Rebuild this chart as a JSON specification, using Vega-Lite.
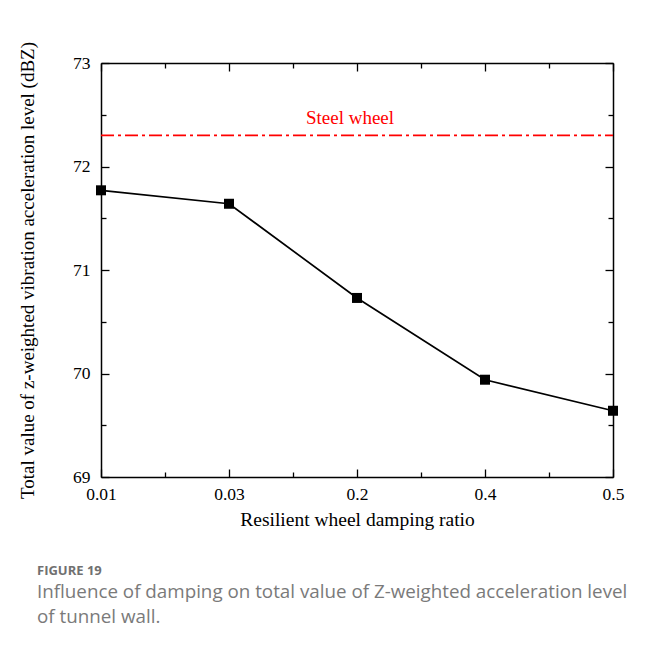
{
  "$schema": "https://vega.github.io/schema/vega-lite/v6.json",
  "width": 512,
  "height": 414,
  "autosize": {"type": "none"},
  "padding": {"left": 101, "top": 63, "right": 43, "bottom": 169},
  "background": "white",
  "datasets": {
    "levels": [
      {"ratio": "0.01", "level": 71.77},
      {"ratio": "0.03", "level": 71.64},
      {"ratio": "0.2", "level": 70.73},
      {"ratio": "0.4", "level": 69.94},
      {"ratio": "0.5", "level": 69.64}
    ],
    "steel": [
      {"label": "Steel wheel", "level": 72.3, "from": "0.01", "to": "0.5", "at": "0.2"}
    ]
  },
  "title": {
    "text": "FIGURE 19",
    "subtitle": ["Influence of damping on total value of Z-weighted acceleration level", "of tunnel wall."],
    "orient": "bottom",
    "anchor": "start",
    "frame": "group",
    "dx": -64,
    "offset": 36,
    "font": "Open Sans",
    "fontSize": 13,
    "fontWeight": "bold",
    "color": "#707070",
    "subtitleFont": "Open Sans",
    "subtitleFontSize": 18.8,
    "subtitleColor": "#7a7a7a",
    "subtitleLineHeight": 25,
    "subtitlePadding": 5
  },
  "layer": [
    {
      "data": {"name": "levels"},
      "mark": {"type": "line", "color": "black", "strokeWidth": 1.7},
      "encoding": {
        "x": {
          "field": "ratio", "type": "ordinal",
          "scale": {"type": "point", "padding": 0, "domain": ["0.01", "m1", "0.03", "m2", "0.2", "m3", "0.4", "m4", "0.5"]},
          "axis": {
            "orient": "bottom", "values": ["0.01", "0.03", "0.2", "0.4", "0.5"],
            "tickSize": -8, "labelPadding": 16, "labelAngle": 0,
            "title": "Resilient wheel damping ratio", "titlePadding": 8, "titleFontSize": 19.5
          }
        },
        "y": {
          "field": "level", "type": "quantitative",
          "scale": {"domain": [69, 73], "zero": false, "nice": false},
          "axis": {
            "orient": "left", "values": [69, 70, 71, 72, 73],
            "tickSize": -8, "labelPadding": 19,
            "title": "Total value of z-weighted vibration acceleration level (dBZ)", "titlePadding": 35, "titleFontSize": 19
          }
        }
      }
    },
    {
      "data": {"name": "levels"},
      "mark": {"type": "square", "color": "black", "opacity": 1, "size": 100},
      "encoding": {
        "x": {
          "field": "ratio", "type": "ordinal",
          "axis": {"orient": "bottom", "values": ["m1", "m2", "m3", "m4"], "tickSize": -5, "labels": false, "domain": false, "title": null}
        },
        "y": {
          "field": "level", "type": "quantitative",
          "axis": {"orient": "left", "values": [69.5, 70.5, 71.5, 72.5], "tickSize": -5, "labels": false, "domain": false, "title": null}
        }
      }
    },
    {
      "data": {"name": "steel"},
      "mark": {"type": "rule", "color": "#ff0000", "strokeWidth": 1.7, "strokeDash": [13, 4, 3, 4]},
      "encoding": {
        "x": {
          "field": "from", "type": "ordinal",
          "axis": {"orient": "top", "values": ["0.01", "0.03", "0.2", "0.4", "0.5"], "tickSize": -8, "labels": false, "title": null}
        },
        "x2": {"field": "to"},
        "y": {
          "field": "level", "type": "quantitative",
          "axis": {"orient": "right", "values": [69, 70, 71, 72, 73], "tickSize": -8, "labels": false, "title": null}
        }
      }
    },
    {
      "data": {"name": "steel"},
      "mark": {"type": "text", "color": "#ff0000", "font": "Liberation Serif", "fontSize": 19, "baseline": "bottom", "dy": -7, "dx": -7},
      "encoding": {
        "x": {
          "field": "at", "type": "ordinal",
          "axis": {"orient": "top", "values": ["m1", "m2", "m3", "m4"], "tickSize": -5, "labels": false, "domain": false, "title": null}
        },
        "y": {
          "field": "level", "type": "quantitative",
          "axis": {"orient": "right", "values": [69.5, 70.5, 71.5, 72.5], "tickSize": -5, "labels": false, "domain": false, "title": null}
        },
        "text": {"field": "label"}
      }
    }
  ],
  "resolve": {"axis": {"x": "independent", "y": "independent"}},
  "config": {
    "view": {"stroke": null},
    "axis": {
      "grid": false,
      "domainColor": "black",
      "domainWidth": 1.5,
      "tickColor": "black",
      "tickWidth": 1.3,
      "labelFont": "Liberation Serif",
      "labelFontSize": 17.5,
      "labelColor": "black",
      "titleFont": "Liberation Serif",
      "titleFontSize": 19,
      "titleFontWeight": "normal",
      "titleColor": "black"
    }
  }
}
